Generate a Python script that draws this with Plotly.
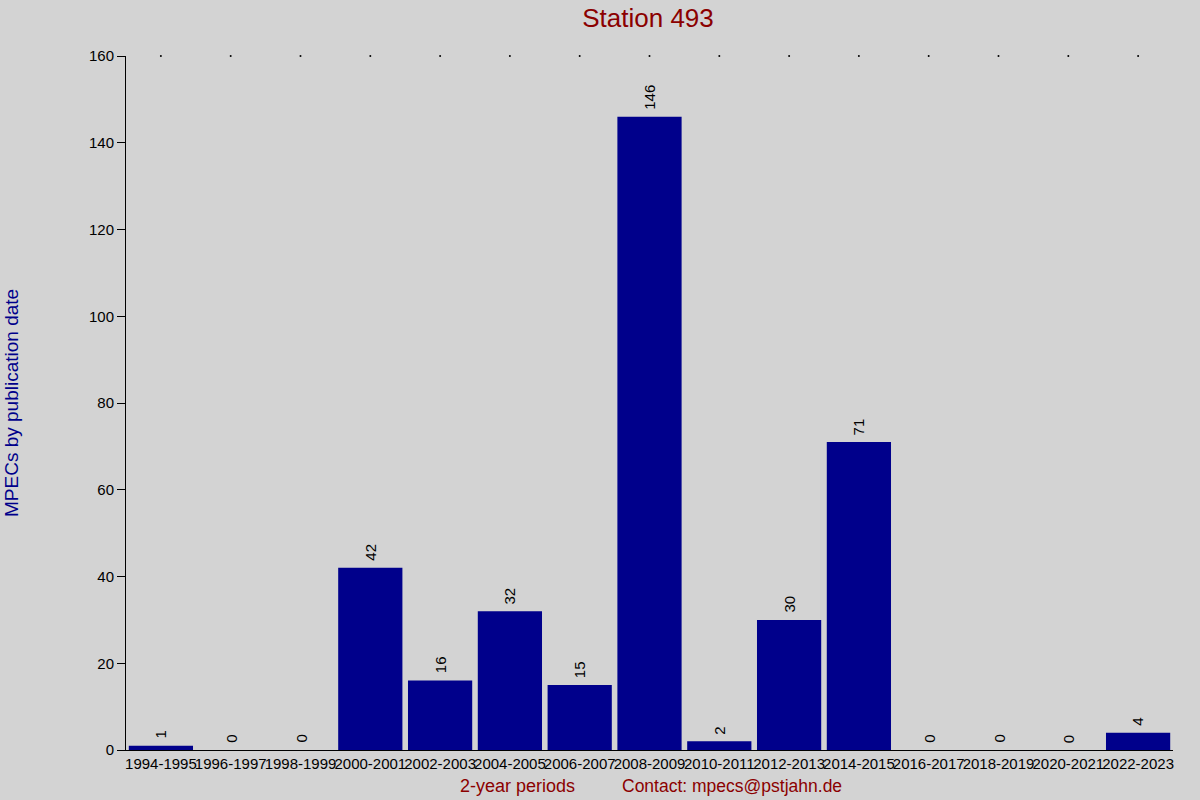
import plotly.graph_objects as go

# 2-year periods and MPEC counts
periods = ["1994-1995", "1996-1997", "1998-1999", "2000-2001", "2002-2003",
           "2004-2005", "2006-2007", "2008-2009", "2010-2011", "2012-2013",
           "2014-2015", "2016-2017", "2018-2019", "2020-2021", "2022-2023"]
mpecs = [1, 0, 0, 42, 16, 32, 15, 146, 2, 30, 71, 0, 0, 0, 4]
y_ticks = [0, 20, 40, 60, 80, 100, 120, 140, 160]
y_max = 160

fig = go.Figure()

fig.add_trace(go.Bar(
    x=periods, y=mpecs,
    marker=dict(color="#00008B", line=dict(width=0)),
    hoverinfo="x+y",
))

# small dots along the top of the plot area
fig.add_trace(go.Scatter(
    x=periods, y=[y_max] * len(periods), mode="markers",
    marker=dict(size=2, color="black"), hoverinfo="skip", cliponaxis=False,
))

# rotated value labels above each bar
for p, v in zip(periods, mpecs):
    fig.add_annotation(x=p, y=v, text=str(v), textangle=-90, showarrow=False,
                       yanchor="bottom", yshift=5, font=dict(size=15, color="black"))

w, h = 1200, 800
l, r, t, b = 126, 27, 56, 50
pw, ph = w - l - r, h - t - b

fig.update_layout(
    width=w, height=h,
    paper_bgcolor="#D3D3D3", plot_bgcolor="#D3D3D3",
    font=dict(family="Liberation Sans, Arial, sans-serif", size=15, color="black"),
    margin=dict(l=l, r=r, t=t, b=b),
    showlegend=False,
    bargap=0.08,
    title=dict(text="Station 493", x=(648 - l) / pw, xref="paper", xanchor="center",
               y=1 - 18 / h, yanchor="middle",
               font=dict(size=26, color="#8B0000")),
    xaxis=dict(range=[-0.5, len(periods) - 0.5], tickangle=0, showgrid=False,
               showline=True, linecolor="black", linewidth=1, ticks="",
               tickfont=dict(size=15), zeroline=False),
    yaxis=dict(range=[0, y_max], tickvals=y_ticks, showgrid=False, zeroline=False,
               showline=True, linecolor="black", linewidth=1,
               ticks="outside", ticklen=8, tickcolor="black",
               tickfont=dict(size=15)),
)

fig.add_annotation(text="MPECs by publication date", textangle=-90,
                   x=(11 - l) / pw, xref="paper", y=(750 - 403) / ph, yref="paper",
                   showarrow=False, xanchor="center", yanchor="middle",
                   font=dict(size=19, color="#00008B"))
fig.add_annotation(text="2-year periods", x=(517 - l) / pw, y=(750 - 786) / ph,
                   xref="paper", yref="paper", showarrow=False, yanchor="middle",
                   font=dict(size=18, color="#8B0000"))
fig.add_annotation(text="Contact: mpecs@pstjahn.de", x=(732 - l) / pw, y=(750 - 786) / ph,
                   xref="paper", yref="paper", showarrow=False, yanchor="middle",
                   font=dict(size=17.5, color="#8B0000"))

fig.write_html("out.html", config={"displayModeBar": False},
               post_script="document.body.style.margin='0';document.body.style.padding='0';")
